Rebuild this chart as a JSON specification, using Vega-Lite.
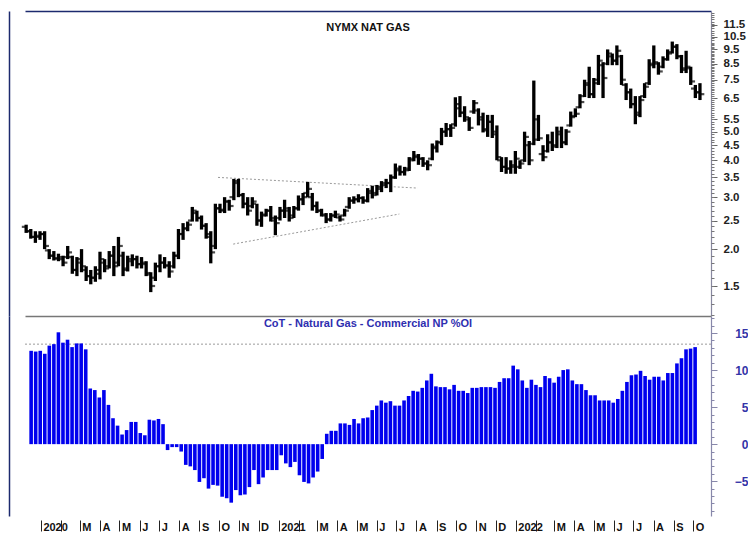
{
"$schema": "https://vega.github.io/schema/vega-lite/v6.json",
"padding": {"left": 9, "top": 11, "right": 0, "bottom": 0},
"background": "#ffffff",
"spacing": 0,
"bounds": "flush",
"config": {"view": {"stroke": null}, "font": "Liberation Sans", "axis": {"grid": false}},
"datasets": {
"w": [
{"d":"2019-12-17","o":2.38,"h":2.42,"l":2.27,"c":2.30,"v":12.6},
{"d":"2019-12-24","o":2.30,"h":2.34,"l":2.17,"c":2.20,"v":12.5},
{"d":"2019-12-31","o":2.20,"h":2.30,"l":2.10,"c":2.22,"v":12.6},
{"d":"2020-01-07","o":2.20,"h":2.30,"l":2.15,"c":2.25,"v":12.2},
{"d":"2020-01-14","o":2.25,"h":2.30,"l":2.00,"c":2.05,"v":13.3},
{"d":"2020-01-21","o":1.98,"h":2.00,"l":1.85,"c":1.90,"v":13.5},
{"d":"2020-01-28","o":1.90,"h":1.97,"l":1.83,"c":1.86,"v":15.1},
{"d":"2020-02-04","o":1.86,"h":1.93,"l":1.82,"c":1.88,"v":13.7},
{"d":"2020-02-11","o":1.85,"h":1.90,"l":1.75,"c":1.80,"v":14.1},
{"d":"2020-02-18","o":1.88,"h":2.05,"l":1.85,"c":1.95,"v":13.1},
{"d":"2020-02-25","o":1.88,"h":1.90,"l":1.65,"c":1.70,"v":13.6},
{"d":"2020-03-03","o":1.70,"h":1.88,"l":1.62,"c":1.80,"v":13.6},
{"d":"2020-03-10","o":1.85,"h":2.00,"l":1.67,"c":1.75,"v":12.8},
{"d":"2020-03-17","o":1.70,"h":1.75,"l":1.56,"c":1.62,"v":7.5},
{"d":"2020-03-24","o":1.62,"h":1.70,"l":1.52,"c":1.60,"v":7.3},
{"d":"2020-03-31","o":1.60,"h":1.75,"l":1.55,"c":1.70,"v":6.3},
{"d":"2020-04-07","o":1.65,"h":1.96,"l":1.58,"c":1.85,"v":7.3},
{"d":"2020-04-14","o":1.80,"h":1.85,"l":1.67,"c":1.72,"v":5.3},
{"d":"2020-04-21","o":1.75,"h":1.97,"l":1.72,"c":1.90,"v":3.5},
{"d":"2020-04-28","o":1.90,"h":2.05,"l":1.62,"c":1.75,"v":2.5},
{"d":"2020-05-05","o":1.80,"h":2.20,"l":1.75,"c":2.05,"v":1.3},
{"d":"2020-05-12","o":1.90,"h":1.96,"l":1.62,"c":1.70,"v":1.9},
{"d":"2020-05-19","o":1.72,"h":1.90,"l":1.68,"c":1.85,"v":3.0},
{"d":"2020-05-26","o":1.82,"h":1.92,"l":1.75,"c":1.85,"v":3.0},
{"d":"2020-06-02","o":1.85,"h":1.90,"l":1.72,"c":1.78,"v":1.5},
{"d":"2020-06-09","o":1.78,"h":1.88,"l":1.72,"c":1.80,"v":1.2},
{"d":"2020-06-16","o":1.78,"h":1.82,"l":1.62,"c":1.66,"v":3.3},
{"d":"2020-06-23","o":1.64,"h":1.67,"l":1.43,"c":1.50,"v":3.2},
{"d":"2020-06-30","o":1.60,"h":1.80,"l":1.56,"c":1.75,"v":3.4},
{"d":"2020-07-07","o":1.75,"h":1.92,"l":1.67,"c":1.80,"v":2.7},
{"d":"2020-07-14","o":1.80,"h":1.88,"l":1.72,"c":1.76,"v":-0.8},
{"d":"2020-07-21","o":1.76,"h":1.82,"l":1.60,"c":1.68,"v":-0.4},
{"d":"2020-07-28","o":1.75,"h":1.96,"l":1.72,"c":1.90,"v":-0.4},
{"d":"2020-08-04","o":1.90,"h":2.34,"l":1.85,"c":2.25,"v":-1.0},
{"d":"2020-08-11","o":2.25,"h":2.45,"l":2.15,"c":2.35,"v":-2.8},
{"d":"2020-08-18","o":2.35,"h":2.48,"l":2.30,"c":2.42,"v":-3.0},
{"d":"2020-08-25","o":2.50,"h":2.78,"l":2.48,"c":2.70,"v":-3.5},
{"d":"2020-09-01","o":2.65,"h":2.70,"l":2.48,"c":2.55,"v":-5.1},
{"d":"2020-09-08","o":2.55,"h":2.60,"l":2.33,"c":2.40,"v":-4.6},
{"d":"2020-09-15","o":2.40,"h":2.45,"l":2.17,"c":2.25,"v":-6.0},
{"d":"2020-09-22","o":2.20,"h":2.30,"l":1.79,"c":1.95,"v":-5.5},
{"d":"2020-09-29","o":2.05,"h":2.85,"l":2.00,"c":2.75,"v":-5.6},
{"d":"2020-10-06","o":2.75,"h":2.85,"l":2.65,"c":2.72,"v":-7.1},
{"d":"2020-10-13","o":2.70,"h":3.00,"l":2.65,"c":2.90,"v":-7.3},
{"d":"2020-10-20","o":2.90,"h":2.94,"l":2.70,"c":2.80,"v":-7.9},
{"d":"2020-10-27","o":3.00,"h":3.46,"l":2.93,"c":3.35,"v":-6.2},
{"d":"2020-11-03","o":3.40,"h":3.46,"l":3.00,"c":3.05,"v":-6.9},
{"d":"2020-11-10","o":3.05,"h":3.10,"l":2.75,"c":2.85,"v":-6.8},
{"d":"2020-11-17","o":2.85,"h":3.00,"l":2.60,"c":2.70,"v":-5.8},
{"d":"2020-11-24","o":2.80,"h":3.00,"l":2.75,"c":2.90,"v":-3.5},
{"d":"2020-12-01","o":2.85,"h":2.85,"l":2.40,"c":2.50,"v":-5.4},
{"d":"2020-12-08","o":2.50,"h":2.68,"l":2.38,"c":2.60,"v":-4.5},
{"d":"2020-12-15","o":2.62,"h":2.74,"l":2.58,"c":2.70,"v":-3.5},
{"d":"2020-12-22","o":2.70,"h":2.80,"l":2.48,"c":2.55,"v":-3.5},
{"d":"2020-12-29","o":2.50,"h":2.60,"l":2.23,"c":2.45,"v":-3.5},
{"d":"2021-01-05","o":2.55,"h":2.78,"l":2.50,"c":2.70,"v":-1.5},
{"d":"2021-01-12","o":2.70,"h":2.94,"l":2.55,"c":2.75,"v":-2.6},
{"d":"2021-01-19","o":2.70,"h":2.78,"l":2.48,"c":2.55,"v":-3.1},
{"d":"2021-01-26","o":2.60,"h":2.80,"l":2.55,"c":2.75,"v":-2.4},
{"d":"2021-02-02","o":2.75,"h":3.04,"l":2.70,"c":2.95,"v":-4.2},
{"d":"2021-02-09","o":2.95,"h":3.10,"l":2.82,"c":3.00,"v":-5.1},
{"d":"2021-02-16","o":3.10,"h":3.38,"l":3.00,"c":3.20,"v":-5.3},
{"d":"2021-02-23","o":3.00,"h":3.10,"l":2.70,"c":2.80,"v":-4.5},
{"d":"2021-03-02","o":2.80,"h":2.90,"l":2.65,"c":2.70,"v":-3.7},
{"d":"2021-03-09","o":2.70,"h":2.74,"l":2.58,"c":2.62,"v":-2.0},
{"d":"2021-03-16","o":2.60,"h":2.65,"l":2.45,"c":2.52,"v":1.4},
{"d":"2021-03-23","o":2.52,"h":2.65,"l":2.48,"c":2.60,"v":1.8},
{"d":"2021-03-30","o":2.60,"h":2.70,"l":2.55,"c":2.62,"v":1.8},
{"d":"2021-04-06","o":2.56,"h":2.60,"l":2.48,"c":2.52,"v":2.8},
{"d":"2021-04-13","o":2.60,"h":2.74,"l":2.58,"c":2.70,"v":2.8},
{"d":"2021-04-20","o":2.78,"h":3.00,"l":2.74,"c":2.92,"v":2.6},
{"d":"2021-04-27","o":2.92,"h":3.02,"l":2.85,"c":2.95,"v":3.4},
{"d":"2021-05-04","o":2.95,"h":3.07,"l":2.88,"c":2.98,"v":2.8},
{"d":"2021-05-11","o":2.98,"h":3.02,"l":2.85,"c":2.92,"v":3.5},
{"d":"2021-05-18","o":2.92,"h":3.22,"l":2.88,"c":3.15,"v":3.6},
{"d":"2021-05-25","o":3.10,"h":3.28,"l":2.97,"c":3.05,"v":4.6},
{"d":"2021-06-01","o":3.10,"h":3.30,"l":3.04,"c":3.25,"v":5.2},
{"d":"2021-06-08","o":3.20,"h":3.40,"l":3.12,"c":3.35,"v":5.9},
{"d":"2021-06-15","o":3.30,"h":3.46,"l":3.22,"c":3.35,"v":5.6},
{"d":"2021-06-22","o":3.35,"h":3.58,"l":3.12,"c":3.50,"v":5.8},
{"d":"2021-06-29","o":3.50,"h":3.90,"l":3.46,"c":3.75,"v":5.2},
{"d":"2021-07-06","o":3.70,"h":3.84,"l":3.55,"c":3.65,"v":5.2},
{"d":"2021-07-13","o":3.65,"h":3.80,"l":3.55,"c":3.70,"v":5.9},
{"d":"2021-07-20","o":3.75,"h":4.10,"l":3.68,"c":4.00,"v":6.5},
{"d":"2021-07-27","o":4.05,"h":4.30,"l":3.97,"c":4.15,"v":7.2},
{"d":"2021-08-03","o":4.10,"h":4.20,"l":3.86,"c":4.05,"v":7.1},
{"d":"2021-08-10","o":4.05,"h":4.10,"l":3.80,"c":3.90,"v":7.6},
{"d":"2021-08-17","o":3.90,"h":4.00,"l":3.70,"c":3.85,"v":8.6},
{"d":"2021-08-24","o":4.05,"h":4.56,"l":4.00,"c":4.40,"v":9.5},
{"d":"2021-08-31","o":4.45,"h":4.67,"l":4.25,"c":4.60,"v":7.8},
{"d":"2021-09-07","o":4.60,"h":5.15,"l":4.50,"c":5.00,"v":7.7},
{"d":"2021-09-14","o":5.00,"h":5.35,"l":4.80,"c":5.10,"v":7.7},
{"d":"2021-09-21","o":5.10,"h":5.30,"l":4.80,"c":5.15,"v":7.4},
{"d":"2021-09-28","o":5.30,"h":6.54,"l":5.20,"c":6.00,"v":8.0},
{"d":"2021-10-05","o":6.20,"h":6.60,"l":5.60,"c":5.80,"v":7.2},
{"d":"2021-10-12","o":5.80,"h":6.10,"l":5.40,"c":5.60,"v":7.2},
{"d":"2021-10-19","o":5.50,"h":5.60,"l":5.03,"c":5.15,"v":6.9},
{"d":"2021-10-26","o":5.85,"h":6.40,"l":5.75,"c":6.25,"v":7.6},
{"d":"2021-11-02","o":5.90,"h":6.00,"l":5.25,"c":5.50,"v":7.6},
{"d":"2021-11-09","o":5.60,"h":5.80,"l":4.97,"c":5.10,"v":7.7},
{"d":"2021-11-16","o":5.05,"h":5.70,"l":4.80,"c":5.40,"v":7.7},
{"d":"2021-11-23","o":5.40,"h":5.70,"l":4.76,"c":4.90,"v":7.7},
{"d":"2021-11-30","o":5.00,"h":5.25,"l":4.00,"c":4.10,"v":7.6},
{"d":"2021-12-07","o":4.00,"h":4.10,"l":3.65,"c":3.80,"v":8.4},
{"d":"2021-12-14","o":3.80,"h":4.10,"l":3.60,"c":3.75,"v":8.9},
{"d":"2021-12-21","o":3.75,"h":4.00,"l":3.60,"c":3.85,"v":8.9},
{"d":"2021-12-28","o":3.80,"h":4.30,"l":3.60,"c":4.05,"v":10.6},
{"d":"2022-01-04","o":3.80,"h":4.00,"l":3.74,"c":3.90,"v":10.1},
{"d":"2022-01-11","o":4.00,"h":5.00,"l":3.95,"c":4.80,"v":8.6},
{"d":"2022-01-18","o":4.50,"h":4.65,"l":3.85,"c":4.00,"v":7.6},
{"d":"2022-01-25","o":4.55,"h":7.45,"l":4.50,"c":4.70,"v":8.7},
{"d":"2022-02-01","o":5.50,"h":5.70,"l":4.65,"c":4.75,"v":8.0},
{"d":"2022-02-08","o":4.20,"h":4.50,"l":3.97,"c":4.10,"v":7.7},
{"d":"2022-02-15","o":4.30,"h":4.90,"l":4.25,"c":4.60,"v":9.2},
{"d":"2022-02-22","o":4.60,"h":5.00,"l":4.30,"c":4.45,"v":8.9},
{"d":"2022-03-01","o":4.50,"h":5.20,"l":4.40,"c":5.00,"v":8.3},
{"d":"2022-03-08","o":4.90,"h":5.20,"l":4.40,"c":4.60,"v":9.1},
{"d":"2022-03-15","o":4.60,"h":5.10,"l":4.50,"c":5.00,"v":10.0},
{"d":"2022-03-22","o":5.25,"h":5.85,"l":5.20,"c":5.60,"v":10.1},
{"d":"2022-03-29","o":5.65,"h":6.00,"l":5.60,"c":5.75,"v":8.6},
{"d":"2022-04-05","o":6.05,"h":6.70,"l":6.00,"c":6.30,"v":8.1},
{"d":"2022-04-12","o":6.60,"h":7.50,"l":6.55,"c":7.30,"v":8.1},
{"d":"2022-04-19","o":7.20,"h":8.30,"l":6.50,"c":6.70,"v":7.3},
{"d":"2022-04-26","o":6.70,"h":7.60,"l":6.50,"c":7.30,"v":6.6},
{"d":"2022-05-03","o":7.50,"h":9.10,"l":7.20,"c":8.70,"v":6.6},
{"d":"2022-05-10","o":8.40,"h":8.60,"l":6.50,"c":7.60,"v":5.9},
{"d":"2022-05-17","o":8.50,"h":9.50,"l":8.40,"c":9.20,"v":5.9},
{"d":"2022-05-24","o":9.00,"h":9.20,"l":8.40,"c":8.70,"v":5.9},
{"d":"2022-05-31","o":8.70,"h":9.80,"l":8.40,"c":9.40,"v":5.6},
{"d":"2022-06-07","o":9.00,"h":9.10,"l":7.20,"c":7.50,"v":6.1},
{"d":"2022-06-14","o":7.20,"h":7.30,"l":6.40,"c":6.80,"v":7.2},
{"d":"2022-06-21","o":6.80,"h":7.00,"l":6.00,"c":6.20,"v":8.4},
{"d":"2022-06-28","o":6.20,"h":6.60,"l":5.30,"c":5.70,"v":9.3},
{"d":"2022-07-05","o":5.80,"h":6.60,"l":5.60,"c":6.40,"v":9.4},
{"d":"2022-07-12","o":6.60,"h":7.30,"l":6.50,"c":7.10,"v":9.9},
{"d":"2022-07-19","o":7.30,"h":8.80,"l":7.20,"c":8.50,"v":9.2},
{"d":"2022-07-26","o":8.40,"h":9.80,"l":8.20,"c":8.60,"v":8.7},
{"d":"2022-08-02","o":8.50,"h":8.60,"l":7.80,"c":8.00,"v":9.1},
{"d":"2022-08-09","o":8.30,"h":9.00,"l":8.20,"c":8.80,"v":9.1},
{"d":"2022-08-16","o":8.80,"h":9.50,"l":8.70,"c":9.20,"v":8.6},
{"d":"2022-08-23","o":9.30,"h":10.10,"l":9.20,"c":9.70,"v":9.6},
{"d":"2022-08-30","o":9.70,"h":9.90,"l":8.80,"c":9.00,"v":9.6},
{"d":"2022-09-06","o":9.00,"h":9.10,"l":7.90,"c":8.10,"v":10.9},
{"d":"2022-09-13","o":8.20,"h":9.40,"l":7.90,"c":8.30,"v":11.6},
{"d":"2022-09-20","o":8.20,"h":8.30,"l":7.20,"c":7.40,"v":12.8},
{"d":"2022-09-27","o":7.00,"h":7.20,"l":6.50,"c":6.80,"v":12.9},
{"d":"2022-10-04","o":6.80,"h":7.30,"l":6.40,"c":6.70,"v":13.1}
],
"tr": [
{"g":"u","d":"2020-10-03","p":3.5},
{"g":"u","d":"2021-08-02","p":3.22},
{"g":"l","d":"2020-10-26","p":2.08},
{"g":"l","d":"2021-07-05","p":2.63}
]
},
"vconcat": [
{
"width": 686,
"height": 305,
"title": {"text": "NYMX NAT GAS", "offset": -22, "fontSize": 11, "fontWeight": "bold", "color": "#111111", "font": "Liberation Sans", "anchor": "middle"},
"data": {"name": "w"},
"resolve": {"axis": {"x": "independent", "y": "independent"}},
"layer": [
{
"data": {"name": "tr"},
"mark": {"type": "line", "color": "#9a9a9a", "strokeDash": [2, 2], "strokeWidth": 1},
"encoding": {
"x": {"field": "d", "type": "temporal", "scale": {"type": "utc", "domain": [{"year": 2019, "month": 12, "date": 15, "hours": 6, "utc": true}, {"year": 2022, "month": 10, "date": 20, "hours": 18, "utc": true}]}, "axis": {"orient": "top", "domain": true, "domainColor": "#1c2a6e", "domainWidth": 1.5, "ticks": false, "labels": false, "grid": false, "title": null}},
"y": {"field": "p", "type": "quantitative", "scale": {"type": "log", "domain": [1.187, 12.82], "nice": false}, "axis": {"orient": "left", "offset": 16, "domain": true, "domainColor": "#1c2a6e", "domainWidth": 1.5, "ticks": false, "labels": false, "grid": false, "title": null}},
"detail": {"field": "g"}
}
},
{
"mark": {"type": "rule", "color": "#000000", "strokeWidth": 3.3},
"encoding": {
"x": {"field": "d", "type": "temporal", "scale": {"type": "utc", "domain": [{"year": 2019, "month": 12, "date": 15, "hours": 6, "utc": true}, {"year": 2022, "month": 10, "date": 20, "hours": 18, "utc": true}]}, "axis": {"orient": "bottom", "domain": true, "domainColor": "#777777", "domainWidth": 1.5, "ticks": false, "labels": false, "grid": false, "title": null}},
"y": {"field": "l", "type": "quantitative", "scale": {"type": "log", "domain": [1.187, 12.82], "nice": false}, "axis": {"orient": "right", "values": [1.5, 2, 2.5, 3, 3.5, 4, 4.5, 5, 5.5, 6.5, 7.5, 8.5, 9.5, 10.5, 11.5], "format": ".1f", "tickSize": 6, "tickColor": "#666666", "domainColor": "#8888a0", "domainWidth": 1.2, "labelPadding": 6, "labelFont": "Liberation Sans", "labelFontSize": 11.5, "labelFontWeight": "bold", "labelColor": "#222222", "labelOverlap": false, "labelBound": false, "grid": false, "title": null}},
"y2": {"field": "h"}
}
},
{
"mark": {"type": "tick", "orient": "horizontal", "color": "#000000", "size": 3.5, "thickness": 2.2, "xOffset": -2.6},
"encoding": {
"x": {"field": "d", "type": "temporal", "scale": {"type": "utc", "domain": [{"year": 2019, "month": 12, "date": 15, "hours": 6, "utc": true}, {"year": 2022, "month": 10, "date": 20, "hours": 18, "utc": true}]}, "axis": null},
"y": {"field": "o", "type": "quantitative", "scale": {"type": "log", "domain": [1.187, 12.82], "nice": false}, "axis": {"orient": "right", "values": [1.2,1.3,1.4,1.5,1.6,1.7,1.8,1.9,2,2.1,2.2,2.3,2.4,2.5,2.6,2.7,2.8,2.9,3,3.1,3.2,3.3,3.4,3.5,3.6,3.7,3.8,3.9,4,4.1,4.2,4.3,4.4,4.5,4.6,4.7,4.8,4.9,5,5.1,5.2,5.3,5.4,5.5,5.6,5.7,5.8,5.9,6,6.1,6.2,6.3,6.4,6.5,6.6,6.7,6.8,6.9,7,7.1,7.2,7.3,7.4,7.5,7.6,7.7,7.8,7.9,8,8.1,8.2,8.3,8.4,8.5,8.6,8.7,8.8,8.9,9,9.1,9.2,9.3,9.4,9.5,9.6,9.7,9.8,9.9,10,10.2,10.4,10.6,10.8,11,11.2,11.4,11.6,11.8,12,12.2,12.4,12.6], "tickSize": 3, "tickColor": "#777777", "labels": false, "domain": false, "grid": false, "title": null}}
}
},
{
"mark": {"type": "tick", "orient": "horizontal", "color": "#000000", "size": 3.5, "thickness": 2.2, "xOffset": 2.6},
"encoding": {
"x": {"field": "d", "type": "temporal", "scale": {"type": "utc", "domain": [{"year": 2019, "month": 12, "date": 15, "hours": 6, "utc": true}, {"year": 2022, "month": 10, "date": 20, "hours": 18, "utc": true}]}, "axis": null},
"y": {"field": "c", "type": "quantitative", "scale": {"type": "log", "domain": [1.187, 12.82], "nice": false}, "axis": null}
}
}
]
},
{
"width": 686,
"height": 200,
"title": {"text": "CoT - Natural Gas - Commercial NP %OI", "offset": -13, "fontSize": 11, "fontWeight": "bold", "color": "#2e2eb0", "font": "Liberation Sans", "anchor": "middle"},
"resolve": {"axis": {"y": "independent"}},
"layer": [
{
"data": {"values": [{}]},
"mark": {"type": "rule", "color": "#9a9a9a", "strokeDash": [2, 2], "strokeWidth": 1},
"encoding": {
"y": {"datum": 13.5, "type": "quantitative", "scale": {"domain": [-9.7, 17.3], "nice": false, "zero": false}, "axis": {"orient": "right", "values": [-9,-8,-7,-6,-5,-4,-3,-2,-1,0,1,2,3,4,5,6,7,8,9,10,11,12,13,14,15,16,17], "tickSize": 3, "tickColor": "#8888aa", "labels": false, "domain": false, "grid": false, "title": null}}
}
},
{
"data": {"name": "w"},
"mark": {"type": "bar", "color": "#0000ee", "width": 3.6},
"encoding": {
"x": {"field": "d", "type": "temporal", "scale": {"type": "utc", "domain": [{"year": 2019, "month": 12, "date": 15, "hours": 6, "utc": true}, {"year": 2022, "month": 10, "date": 20, "hours": 18, "utc": true}]}, "axis": {"orient": "bottom", "values": [
{"year":2020,"month":1,"date":1,"utc":true},{"year":2020,"month":2,"date":1,"utc":true},{"year":2020,"month":3,"date":1,"utc":true},{"year":2020,"month":4,"date":1,"utc":true},{"year":2020,"month":5,"date":1,"utc":true},{"year":2020,"month":6,"date":1,"utc":true},{"year":2020,"month":7,"date":1,"utc":true},{"year":2020,"month":8,"date":1,"utc":true},{"year":2020,"month":9,"date":1,"utc":true},{"year":2020,"month":10,"date":1,"utc":true},{"year":2020,"month":11,"date":1,"utc":true},{"year":2020,"month":12,"date":1,"utc":true},
{"year":2021,"month":1,"date":1,"utc":true},{"year":2021,"month":2,"date":1,"utc":true},{"year":2021,"month":3,"date":1,"utc":true},{"year":2021,"month":4,"date":1,"utc":true},{"year":2021,"month":5,"date":1,"utc":true},{"year":2021,"month":6,"date":1,"utc":true},{"year":2021,"month":7,"date":1,"utc":true},{"year":2021,"month":8,"date":1,"utc":true},{"year":2021,"month":9,"date":1,"utc":true},{"year":2021,"month":10,"date":1,"utc":true},{"year":2021,"month":11,"date":1,"utc":true},{"year":2021,"month":12,"date":1,"utc":true},
{"year":2022,"month":1,"date":1,"utc":true},{"year":2022,"month":2,"date":1,"utc":true},{"year":2022,"month":3,"date":1,"utc":true},{"year":2022,"month":4,"date":1,"utc":true},{"year":2022,"month":5,"date":1,"utc":true},{"year":2022,"month":6,"date":1,"utc":true},{"year":2022,"month":7,"date":1,"utc":true},{"year":2022,"month":8,"date":1,"utc":true},{"year":2022,"month":9,"date":1,"utc":true},{"year":2022,"month":10,"date":1,"utc":true}
], "labelExpr": "utcFormat(datum.value, '%m') == '01' ? utcFormat(datum.value, '%Y') : (utcFormat(datum.value, '%m') == '02' ? '' : substring(utcFormat(datum.value, '%b'), 0, 1))", "domain": false, "ticks": true, "tickSize": 11, "tickColor": "#222222", "tickWidth": 1, "offset": 4, "labelAlign": "left", "labelBaseline": "top", "labelPadding": -10, "labelOffset": 2, "labelFont": "Liberation Sans", "labelFontSize": 11, "labelFontWeight": "bold", "labelColor": "#111111", "labelOverlap": false, "labelBound": false, "labelFlush": false, "grid": false, "title": null}},
"y": {"field": "v", "type": "quantitative", "scale": {"domain": [-9.7, 17.3], "nice": false, "zero": false}, "axis": {"orient": "right", "values": [-5, 0, 5, 10, 15], "tickSize": 6, "tickColor": "#8888aa", "domainColor": "#8888aa", "domainWidth": 1.2, "labelAlign": "right", "labelPadding": 31, "labelFont": "Liberation Sans", "labelFontSize": 12, "labelFontWeight": "bold", "labelColor": "#3434a8", "labelOverlap": false, "labelBound": false, "grid": false, "title": null}}
}
},
{
"data": {"values": [{}]},
"mark": {"type": "rule", "opacity": 0},
"encoding": {
"y": {"datum": 0, "type": "quantitative", "scale": {"domain": [-9.7, 17.3], "nice": false, "zero": false}, "axis": {"orient": "left", "offset": 16, "domain": true, "domainColor": "#1c2a6e", "domainWidth": 1.5, "ticks": false, "labels": false, "grid": false, "title": null}}
}
}
]
}
]
}
